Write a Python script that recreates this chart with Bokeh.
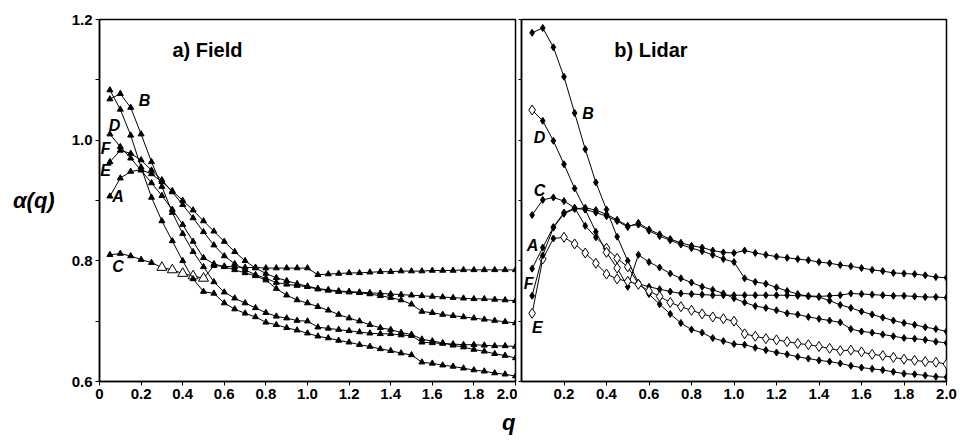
from bokeh.plotting import figure
from bokeh.layouts import row
from bokeh.models import Range1d, FixedTicker, PrintfTickFormatter, Label, Title
from bokeh.embed import file_html
from bokeh.resources import INLINE

# ---------------- data ----------------
Q = [0.05, 0.10, 0.15, 0.20, 0.25, 0.30, 0.35, 0.40, 0.45, 0.50,
     0.55, 0.60, 0.65, 0.70, 0.75, 0.80, 0.85, 0.90, 0.95, 1.00,
     1.05, 1.10, 1.15, 1.20, 1.25, 1.30, 1.35, 1.40, 1.45, 1.50,
     1.55, 1.60, 1.65, 1.70, 1.75, 1.80, 1.85, 1.90, 1.95, 2.00]

field_A = [0.907, 0.937, 0.948, 0.951, 0.944, 0.931, 0.916, 0.900, 0.884, 0.866,
           0.849, 0.832, 0.815, 0.800, 0.788, 0.779, 0.772, 0.767, 0.762, 0.758,
           0.754, 0.752, 0.750, 0.749, 0.748, 0.747, 0.746, 0.745, 0.744, 0.743,
           0.742, 0.741, 0.740, 0.739, 0.738, 0.737, 0.737, 0.736, 0.735, 0.734]
field_B = [1.068, 1.077, 1.054, 1.010, 0.964, 0.923, 0.880, 0.845, 0.815, 0.790,
           0.765, 0.748, 0.738, 0.730, 0.722, 0.714, 0.708, 0.705, 0.701, 0.700,
           0.690, 0.688, 0.686, 0.684, 0.682, 0.680, 0.679, 0.679, 0.677, 0.676,
           0.665, 0.664, 0.663, 0.662, 0.661, 0.661, 0.660, 0.659, 0.659, 0.658]
field_C = [0.810, 0.812, 0.808, 0.802, 0.797, 0.789, 0.785, 0.779, 0.775, 0.771,
           0.792, 0.791, 0.790, 0.789, 0.789, 0.788, 0.788, 0.788, 0.788, 0.788,
           0.777, 0.778, 0.779, 0.780, 0.780, 0.781, 0.782, 0.782, 0.783, 0.783,
           0.783, 0.784, 0.784, 0.784, 0.785, 0.785, 0.785, 0.785, 0.785, 0.785]
field_D = [1.010, 0.989, 0.970, 0.950, 0.929, 0.908, 0.885, 0.860, 0.832, 0.805,
           0.795, 0.790, 0.785, 0.780, 0.775, 0.768, 0.754, 0.743, 0.735, 0.730,
           0.724, 0.718, 0.711, 0.705, 0.700, 0.694, 0.689, 0.686, 0.681, 0.678,
           0.670, 0.667, 0.664, 0.660, 0.657, 0.653, 0.650, 0.646, 0.643, 0.639]
field_E = [0.964, 0.983, 0.978, 0.967, 0.950, 0.934, 0.914, 0.893, 0.871, 0.848,
           0.826, 0.808, 0.795, 0.785, 0.777, 0.771, 0.764, 0.761, 0.759, 0.757,
           0.753, 0.751, 0.749, 0.748, 0.747, 0.745, 0.742, 0.739, 0.735, 0.728,
           0.716, 0.714, 0.711, 0.709, 0.707, 0.705, 0.703, 0.701, 0.699, 0.697]
field_F = [1.083, 1.051, 1.008, 0.955, 0.905, 0.866, 0.833, 0.800, 0.770, 0.749,
           0.746, 0.730, 0.720, 0.713, 0.707, 0.698, 0.694, 0.689, 0.685, 0.680,
           0.675, 0.672, 0.668, 0.665, 0.661, 0.658, 0.654, 0.651, 0.647, 0.644,
           0.632, 0.630, 0.627, 0.625, 0.622, 0.619, 0.617, 0.614, 0.612, 0.609]
field_open = {"C": [0.30, 0.35, 0.40, 0.45, 0.50]}

lidar_A = [0.787, 0.822, 0.856, 0.880, 0.887, 0.885, 0.880, 0.874, 0.866, 0.856,
           0.863, 0.852, 0.844, 0.836, 0.830, 0.825, 0.822, 0.817, 0.814, 0.813,
           0.817, 0.813, 0.810, 0.807, 0.805, 0.803, 0.801, 0.798, 0.796, 0.793,
           0.791, 0.788, 0.785, 0.783, 0.780, 0.779, 0.778, 0.776, 0.773, 0.772]
lidar_B = [1.178, 1.186, 1.154, 1.105, 1.045, 0.985, 0.930, 0.885, 0.840, 0.800,
           0.764, 0.745, 0.728, 0.712, 0.697, 0.686, 0.681, 0.672, 0.667, 0.662,
           0.661, 0.656, 0.652, 0.648, 0.645, 0.641, 0.638, 0.635, 0.633, 0.630,
           0.626, 0.623, 0.621, 0.619, 0.616, 0.613, 0.612, 0.610, 0.608, 0.607]
lidar_C = [0.876, 0.901, 0.905, 0.899, 0.888, 0.858, 0.839, 0.821, 0.804, 0.790,
           0.762, 0.757, 0.753, 0.749, 0.746, 0.745, 0.744, 0.743, 0.743, 0.743,
           0.743, 0.743, 0.743, 0.743, 0.743, 0.742, 0.742, 0.741, 0.742, 0.743,
           0.746, 0.745, 0.744, 0.743, 0.742, 0.742, 0.741, 0.740, 0.740, 0.739]
lidar_D = [1.050, 1.032, 0.999, 0.960, 0.920, 0.885, 0.848, 0.814, 0.788, 0.757,
           0.810, 0.798, 0.789, 0.779, 0.771, 0.764, 0.757, 0.752, 0.746, 0.738,
           0.731, 0.725, 0.722, 0.718, 0.713, 0.711, 0.707, 0.704, 0.701, 0.698,
           0.687, 0.683, 0.681, 0.678, 0.675, 0.672, 0.671, 0.669, 0.666, 0.664]
lidar_E = [0.713, 0.803, 0.837, 0.839, 0.828, 0.813, 0.796, 0.778, 0.770, 0.766,
           0.761, 0.750, 0.741, 0.731, 0.724, 0.718, 0.712, 0.707, 0.704, 0.700,
           0.679, 0.675, 0.671, 0.669, 0.666, 0.663, 0.661, 0.658, 0.655, 0.651,
           0.652, 0.649, 0.645, 0.643, 0.640, 0.637, 0.635, 0.633, 0.632, 0.629]
lidar_F = [0.742, 0.809, 0.855, 0.878, 0.886, 0.888, 0.884, 0.877, 0.868, 0.858,
           0.860, 0.850, 0.841, 0.834, 0.827, 0.821, 0.816, 0.810, 0.803, 0.798,
           0.771, 0.765, 0.762, 0.756, 0.750, 0.745, 0.741, 0.740, 0.734, 0.727,
           0.722, 0.716, 0.711, 0.706, 0.701, 0.697, 0.694, 0.690, 0.687, 0.683]
lidar_open = {"D": [0.05, 0.40, 0.45], "E": Q[:2] + Q[3:], "C": [0.40, 0.45, 0.50]}

X_TICKS = [0.0, 0.2, 0.4, 0.6, 0.8, 1.0, 1.2, 1.4, 1.6, 1.8, 2.0]
Y_TICKS = [0.6, 0.8, 1.0, 1.2]
Y_MINOR = [0.7, 0.9, 1.1]

# series label positions (data coords)
field_labels = {"B": (0.216, 1.066), "D": (0.072, 1.025), "F": (0.029, 0.987),
                "E": (0.029, 0.949), "A": (0.089, 0.907), "C": (0.089, 0.791)}
lidar_labels = {"B": (0.313, 1.045), "D": (0.085, 1.004), "C": (0.085, 0.916),
                "A": (0.052, 0.826), "F": (0.033, 0.763), "E": (0.075, 0.690)}

FONT = "Liberation Sans"
H = 440


def base(width, left, right, xticks, ylabels):
    p = figure(width=width, height=H, output_backend="svg", toolbar_location=None,
               x_range=Range1d(0, 2.0), y_range=Range1d(0.6, 1.2),
               min_border_left=left, min_border_right=right,
               min_border_top=19, min_border_bottom=54)
    p.xgrid.visible = False
    p.ygrid.visible = False
    p.outline_line_color = "black"
    p.outline_line_width = 1.5
    p.background_fill_color = "white"
    p.border_fill_color = "white"
    xa = p.xaxis[0]
    xa.ticker = FixedTicker(ticks=xticks)
    xa.formatter = PrintfTickFormatter(format="%.1f")
    xa.major_label_overrides = {0: "0"}
    xa.major_tick_out = 4
    xa.major_tick_in = 0
    xa.axis_line_width = 1.5
    xa.major_label_standoff = 3
    xa.major_label_text_font = FONT
    xa.major_label_text_font_style = "bold"
    xa.major_label_text_font_size = "15px"
    xa.major_label_text_color = "black"
    ya = p.yaxis[0]
    ya.ticker = FixedTicker(ticks=Y_TICKS, minor_ticks=Y_MINOR)
    ya.formatter = PrintfTickFormatter(format="%.1f")
    ya.axis_line_width = 1.5
    ya.major_label_text_font = FONT
    ya.major_label_text_font_style = "bold"
    ya.major_label_text_font_size = "15px"
    ya.major_label_text_color = "black"
    ya.major_tick_in = 0
    ya.minor_tick_in = 0
    if ylabels:
        ya.major_tick_out = 4
        ya.minor_tick_out = 4
        ya.major_label_standoff = 3
    else:
        ya.major_tick_out = 3
        ya.minor_tick_out = 3
        ya.major_label_standoff = 0
        ya.major_label_overrides = {t: "" for t in Y_TICKS}
    return p


def draw(p, series, opens, marker, fsize, osize):
    for name, vals in series.items():
        p.line(Q, vals, line_color="black", line_width=1)
        op = opens.get(name, [])
        fx = [q for q in Q if q not in op]
        fy = [v for q, v in zip(Q, vals) if q not in op]
        ox = [q for q in Q if q in op]
        oy = [v for q, v in zip(Q, vals) if q in op]
        p.scatter(fx, fy, marker=marker, size=fsize, fill_color="black", line_color="black")
        if ox:
            p.scatter(ox, oy, marker=marker, size=osize, fill_color="white",
                      line_color="black", line_width=1)


def add_text(p, x, y, text, size, style):
    p.add_layout(Label(x=x, y=y, text=text, text_font=FONT, text_font_style=style,
                       text_font_size=size, text_align="center", text_baseline="middle",
                       text_color="black"))


# ---------------- left panel ----------------
p1 = base(517, 99, 2, X_TICKS, True)
draw(p1, {"A": field_A, "B": field_B, "C": field_C, "D": field_D, "E": field_E, "F": field_F},
     field_open, "triangle", 6, 10)
for name, (x, y) in field_labels.items():
    add_text(p1, x, y, name, "16px", "bold italic")
add_text(p1, 0.519, 1.149, "a) Field", "20px", "bold")

ya1 = p1.yaxis[0]
ya1.axis_label = "α(q)"
ya1.axis_label_orientation = "horizontal"
ya1.axis_label_standoff = 14
ya1.axis_label_text_font = FONT
ya1.axis_label_text_font_style = "bold italic"
ya1.axis_label_text_font_size = "22px"
ya1.axis_label_text_color = "black"

p1.add_layout(Title(text="q", align="right", text_font=FONT, text_font_style="bold italic",
                    text_font_size="22px", text_color="black", standoff=12), "below")

# ---------------- right panel ----------------
p2 = base(443, 4, 14, X_TICKS[1:], False)
draw(p2, {"A": lidar_A, "B": lidar_B, "C": lidar_C, "D": lidar_D, "E": lidar_E, "F": lidar_F},
     lidar_open, "diamond", 7, 10)
for name, (x, y) in lidar_labels.items():
    add_text(p2, x, y, name, "16px", "bold italic")
add_text(p2, 0.609, 1.149, "b) Lidar", "20px", "bold")

layout = row(p1, p2, spacing=0)
open("out.html", "w").write(file_html(layout, INLINE))
